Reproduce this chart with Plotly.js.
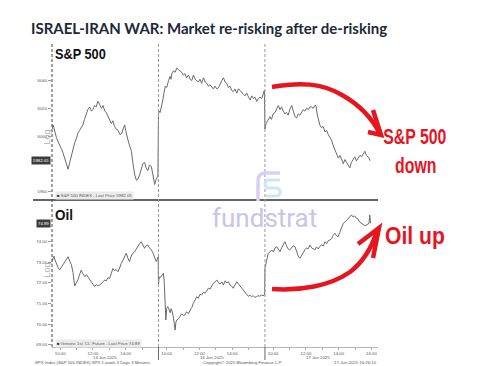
<!DOCTYPE html>
<html>
<head>
<meta charset="utf-8">
<script src="https://cdn.plot.ly/plotly-3.0.1.min.js"></script>
<style>
  html, body { margin: 0; padding: 0; background: #ffffff; }
  #chart { width: 504px; height: 366px; }
</style>
</head>
<body>
<div id="chart"></div>
<script>
// ---------------- DATA ----------------
const dayLabels = ['13 Jun 2025', '16 Jun 2025', '17 Jun 2025'];
const timeTickLabels = ['10:00', '12:00', '14:00', '16:00'];

// S&P 500 (3-minute bars, sampled) — 13 Jun 2025
const spxTimes1 = ['09:30','09:34','09:37','09:40','09:46','09:52','09:58','10:04','10:10','10:16','10:22','10:26','10:29','10:35','10:41','10:47','10:53','10:59','11:05','11:11','11:17','11:23','11:29','11:35','11:41','11:48','11:54','12:00','12:06','12:12','12:18','12:24','12:31','12:37','12:43','12:49','12:55','13:01','13:07','13:13','13:19','13:25','13:32','13:39','13:46','13:52','13:56','14:01','14:06','14:11','14:16','14:21','14:26','14:33','14:39','14:45','14:51','14:57','15:03','15:09','15:15','15:21','15:27','15:34','15:40','15:46','15:52','15:58'];
const spx1 = [6005,6008,6006,6003,5999,5996,5994,5991,5988,5984,5980,5978,5976,5981,5986,5990,5995,5998,6002,6004,6006,6008,6012,6015,6019,6021,6018,6019,6022,6021,6025,6023,6020,6022,6018,6017,6014,6011,6009,6011,6007,6005,6004,6001,6002,6006,6008,6003,5998,5995,5992,5989,5981,5972,5968,5969,5972,5977,5980,5981,5977,5975,5979,5978,5972,5965,5969,5971];
// 16 Jun 2025
const spxTimes2 = ['09:30','09:33','09:36','09:42','09:46','09:50','09:55','10:00','10:04','10:07','10:12','10:16','10:19','10:25','10:31','10:37','10:43','10:49','10:55','11:01','11:07','11:13','11:20','11:26','11:32','11:38','11:44','11:50','11:56','12:02','12:08','12:15','12:21','12:27','12:33','12:39','12:45','12:51','12:57','13:04','13:10','13:16','13:22','13:28','13:34','13:40','13:46','13:52','13:58','14:04','14:10','14:17','14:23','14:29','14:35','14:41','14:47','14:53','15:00','15:06','15:12','15:18','15:24','15:30','15:36','15:42','15:48','15:54','15:58'];
const spx2 = [6016,6018,6017,6022,6026,6031,6036,6035,6039,6040,6043,6041,6045,6047,6046,6049,6048,6047,6046,6044,6045,6042,6044,6041,6040,6044,6041,6040,6039,6041,6038,6042,6039,6038,6036,6037,6035,6034,6036,6034,6035,6038,6040,6042,6039,6038,6035,6036,6033,6032,6034,6031,6034,6033,6031,6030,6029,6031,6028,6026,6029,6027,6028,6025,6027,6028,6027,6031,6033];
// 17 Jun 2025
const spxTimes3 = ['09:30','09:34','09:40','09:48','09:54','10:00','10:07','10:13','10:19','10:25','10:31','10:37','10:43','10:49','10:55','11:01','11:08','11:14','11:20','11:26','11:32','11:38','11:44','11:50','11:56','12:03','12:09','12:15','12:21','12:27','12:33','12:37','12:41','12:45','12:51','12:57','13:03','13:10','13:16','13:22','13:28','13:34','13:40','13:46','13:53','13:59','14:05','14:11','14:17','14:23','14:29','14:35','14:41','14:47','14:53','14:59','15:05','15:11','15:18','15:24','15:30','15:36','15:42','15:48','15:52','15:55'];
const spx3 = [6005,6009,6011,6014,6012,6016,6017,6020,6022,6019,6021,6018,6016,6017,6015,6019,6022,6018,6014,6013,6016,6015,6017,6019,6018,6020,6019,6021,6021,6020,6022,6022,6016,6012,6008,6006,6007,6003,6004,6001,5999,5997,5993,5990,5986,5984,5986,5983,5980,5983,5981,5979,5977,5981,5983,5985,5982,5984,5986,5985,5987,5989,5986,5985,5984,5982.05];

// Oil — Generic 1st 'CL' Future
const oilTimes1 = ['09:30','09:34','09:37','09:40','09:46','09:52','09:58','10:04','10:10','10:16','10:22','10:29','10:35','10:41','10:47','10:53','10:59','11:05','11:11','11:17','11:23','11:30','11:36','11:42','11:48','11:54','12:00','12:06','12:12','12:18','12:25','12:31','12:37','12:43','12:49','12:55','13:01','13:07','13:13','13:19','13:25','13:32','13:38','13:44','13:50','13:56','14:02','14:08','14:14','14:20','14:26','14:32','14:38','14:45','14:51','14:57','15:03','15:09','15:15','15:21','15:27','15:34','15:40','15:46','15:52','15:56','15:59'];
const oil1 = [73.05,73.2,73.3,73.15,72.9,72.75,72.63,72.75,72.9,73.0,73.1,73.27,73.05,72.88,72.5,71.85,72.0,72.15,72.4,72.62,72.45,72.3,72.4,72.28,72.2,72.05,71.95,71.82,71.92,71.85,71.9,72.0,72.05,72.14,72.1,72.25,72.22,72.45,72.7,72.6,72.65,72.54,72.8,72.95,73.1,73.25,73.44,73.2,73.03,73.3,73.44,73.5,73.65,73.76,73.9,74.0,73.85,73.68,73.8,73.84,73.7,73.6,73.45,73.2,73.03,73.15,73.27];
const oilTimes2 = ['09:30','09:33','09:36','09:42','09:48','09:51','09:53','09:55','09:57','10:00','10:04','10:07','10:13','10:16','10:19','10:25','10:28','10:31','10:34','10:37','10:43','10:49','10:55','11:01','11:07','11:13','11:20','11:26','11:32','11:38','11:44','11:50','11:56','12:02','12:08','12:15','12:21','12:27','12:33','12:39','12:45','12:51','12:57','13:04','13:10','13:16','13:22','13:28','13:34','13:40','13:46','13:52','13:58','14:04','14:10','14:17','14:23','14:29','14:35','14:41','14:47','14:53','14:59','15:05','15:11','15:17','15:23','15:29','15:35','15:41','15:47','15:53','15:59'];
const oil2 = [71.95,72.3,72.25,72.38,72.47,72.1,71.3,70.6,70.2,70.75,70.85,70.77,70.55,70.75,70.68,70.3,70.0,69.71,70.1,70.2,70.25,70.36,70.5,70.42,70.44,70.6,70.5,70.68,70.8,71.01,71.15,71.33,71.25,71.45,71.41,71.55,71.5,71.65,71.74,71.7,71.85,71.98,72.05,72.14,72.0,71.95,72.05,71.9,72.1,72.0,72.06,71.9,71.85,71.74,71.9,72.06,71.95,71.85,71.74,71.6,71.5,71.41,71.35,71.4,71.33,71.38,71.3,71.33,71.38,71.35,71.41,71.38,71.41];
const oilTimes3 = ['09:30','09:33','09:37','09:42','09:48','09:55','10:01','10:07','10:13','10:19','10:25','10:31','10:37','10:43','10:49','10:55','11:01','11:07','11:14','11:20','11:26','11:32','11:38','11:44','11:50','11:56','12:02','12:08','12:15','12:21','12:27','12:33','12:39','12:45','12:51','12:57','13:04','13:10','13:16','13:22','13:28','13:34','13:40','13:46','13:52','13:58','14:04','14:10','14:17','14:23','14:29','14:35','14:41','14:47','14:53','14:59','15:05','15:11','15:17','15:24','15:30','15:36','15:42','15:48','15:51','15:54','15:57'];
const oil3 = [72.7,72.87,73.1,73.44,73.5,73.6,73.5,73.7,73.76,73.6,73.51,73.7,73.85,74.0,73.8,73.65,73.6,73.7,73.8,73.76,73.5,73.3,73.19,73.35,73.5,73.6,73.7,73.65,73.84,73.7,73.65,73.6,73.75,73.65,73.76,73.85,73.8,74.0,73.9,74.05,74.08,74.15,74.3,74.41,74.3,74.24,74.45,74.7,74.89,74.95,75.05,75.1,75.25,75.3,75.2,75.25,75.14,75.1,74.95,74.89,74.85,74.78,74.81,74.85,74.89,75.3,74.89];

const spxTicks = [5960, 6000, 6020, 6040];
const oilTicks = [69, 70, 71, 72, 73, 74];
const spxLast = '5982.05';
const oilLast = '74.89';

// ---------------- HELPERS ----------------
const DAY_LEN = 6.5; // trading hours 09:30-16:00
function tx(day, t) {
  const p = t.split(':').map(Number);
  return day * DAY_LEN + p[0] + p[1] / 60 - 9.5;
}
function series(timesArr, valsArr) {
  const x = [], y = [];
  timesArr.forEach((times, d) => {
    times.forEach((t, i) => { x.push(tx(d, t)); y.push(valsArr[d][i]); });
  });
  return { x, y };
}
// pixel -> paper coordinates (plot area: x 52..378, y 48..347)
const L = 52, R = 378, T = 48, B = 347;
const PX = v => (v - L) / (R - L);
const PY = v => (B - v) / (B - T);
function path(str) {
  return str.replace(/(-?\d+(?:\.\d+)?),(-?\d+(?:\.\d+)?)/g, (m, a, b) =>
    PX(+a).toFixed(4) + ',' + PY(+b).toFixed(4));
}

const spx = series([spxTimes1, spxTimes2, spxTimes3], [spx1, spx2, spx3]);
const oil = series([oilTimes1, oilTimes2, oilTimes3], [oil1, oil2, oil3]);

// x ticks: every hour, labels only on even hours
const tickvals = [], ticktext = [];
for (let d = 0; d < 3; d++) {
  for (let h = 10; h <= 16; h++) {
    if (h === 16 && d < 2) continue;
    tickvals.push(tx(d, h + ':00'));
    const lbl = h + ':00';
    ticktext.push(timeTickLabels.indexOf(lbl) >= 0 ? lbl : '');
  }
}

const lineStyle = { color: '#6a6a6a', width: 1 };
const traces = [
  { x: spx.x, y: spx.y, type: 'scatter', mode: 'lines', line: lineStyle, xaxis: 'x', yaxis: 'y', hoverinfo: 'skip' },
  { x: oil.x, y: oil.y, type: 'scatter', mode: 'lines', line: lineStyle, xaxis: 'x', yaxis: 'y2', hoverinfo: 'skip' }
];

const splitY = PY(200);
const red = '#e5161f';
const tinyFont = { family: 'Liberation Sans, Arial, sans-serif', size: 4.3, color: '#555' };
const boldSans = 'Liberation Sans, Arial, sans-serif';

const annotations = [
  // panel labels
  { text: '<b>S&P 500</b>', xref: 'paper', yref: 'paper', x: PX(53), y: PY(53), xanchor: 'left', yanchor: 'middle', showarrow: false,
    font: { family: boldSans, size: 15, color: '#111' } },
  { text: '<b>Oil</b>', xref: 'paper', yref: 'paper', x: PX(53), y: PY(214), xanchor: 'left', yanchor: 'middle', showarrow: false,
    font: { family: boldSans, size: 15, color: '#111' } },
  // Log labels
  { text: 'Log', xref: 'paper', yref: 'paper', x: PX(39), y: PY(128), textangle: -90, showarrow: false,
    font: { family: boldSans, size: 9, color: '#b0b0b0' } },
  { text: 'Log', xref: 'paper', yref: 'paper', x: PX(39), y: PY(280), textangle: -90, showarrow: false,
    font: { family: boldSans, size: 9, color: '#b0b0b0' } },
  // last price boxes
  { text: spxLast, xref: 'paper', yref: 'y', x: 0, y: +spxLast, xanchor: 'right', yanchor: 'middle', xshift: -1, showarrow: false,
    bgcolor: '#3c3c3c', borderpad: 1, font: { family: boldSans, size: 4.3, color: '#ffffff' } },
  { text: oilLast, xref: 'paper', yref: 'y2', x: 0, y: +oilLast, xanchor: 'right', yanchor: 'middle', xshift: -1, showarrow: false,
    bgcolor: '#3c3c3c', borderpad: 1, font: { family: boldSans, size: 4.3, color: '#ffffff' } },
  // legend boxes
  { text: '<span style="color:#333">■</span> S&P 500 INDEX - Last Price ' + spxLast, xref: 'paper', yref: 'paper', x: PX(55), y: PY(195),
    xanchor: 'left', yanchor: 'middle', showarrow: false, bgcolor: '#ebebeb', borderpad: 1, font: tinyFont },
  { text: '<span style="color:#333">■</span> Generic 1st \'CL\' Future - Last Price ' + oilLast, xref: 'paper', yref: 'paper', x: PX(55), y: PY(343),
    xanchor: 'left', yanchor: 'middle', showarrow: false, bgcolor: '#ebebeb', borderpad: 1, font: tinyFont },
  // footer
  { text: 'SPX Index (S&P 500 INDEX) SPX 1-week 3 Days 3 Minutes', xref: 'paper', yref: 'paper', x: PX(33), y: PY(362),
    xanchor: 'left', yanchor: 'middle', showarrow: false, font: tinyFont },
  { text: 'Copyright© 2025 Bloomberg Finance L.P.', xref: 'paper', yref: 'paper', x: PX(201), y: PY(362),
    xanchor: 'left', yanchor: 'middle', showarrow: false, font: tinyFont },
  { text: '17-Jun-2025 16:26:10', xref: 'paper', yref: 'paper', x: PX(379), y: PY(362),
    xanchor: 'right', yanchor: 'middle', showarrow: false, font: tinyFont },
  // watermark
  { text: 'fundstrat', xref: 'paper', yref: 'paper', x: PX(264), y: PY(218), xanchor: 'center', yanchor: 'middle', showarrow: false,
    font: { family: 'Roboto, sans-serif', size: 26, color: '#c9c4e8' } },
  // red commentary
  { text: '<b>S&P 500</b>', xref: 'paper', yref: 'paper', x: PX(415.5), y: PY(136), xanchor: 'center', yanchor: 'middle', showarrow: false,
    font: { family: boldSans, size: 22, color: red } },
  { text: '<b>down</b>', xref: 'paper', yref: 'paper', x: PX(415.5), y: PY(165), xanchor: 'center', yanchor: 'middle', showarrow: false,
    font: { family: boldSans, size: 22, color: red } },
  { text: '<b>Oil up</b>', xref: 'paper', yref: 'paper', x: PX(415), y: PY(235), xanchor: 'center', yanchor: 'middle', showarrow: false,
    font: { family: boldSans, size: 24, color: red } }
];
// date labels under the axis
dayLabels.forEach((lbl, d) => {
  annotations.push({ text: lbl, xref: 'x', yref: 'paper', x: d * DAY_LEN + DAY_LEN / 2, y: PY(357), xanchor: 'center', yanchor: 'middle',
    showarrow: false, font: tinyFont });
});

const shapes = [
  { type: 'line', xref: 'paper', yref: 'paper', x0: PX(33), x1: 1, y0: splitY, y1: splitY, line: { color: '#333', width: 1.5 } },
  { type: 'line', xref: 'paper', yref: 'paper', x0: 0, x1: 0, y0: 0, y1: PY(44), line: { color: '#444', width: 1, dash: '3px,2px' } }
];
[1, 2].forEach(d => {
  shapes.push({ type: 'line', xref: 'x', yref: 'paper', x0: d * DAY_LEN, x1: d * DAY_LEN, y0: 0, y1: PY(44), line: { color: '#9a9a9a', width: 1, dash: '3px,2px' } });
  shapes.push({ type: 'line', xref: 'x', yref: 'paper', x0: d * DAY_LEN, x1: d * DAY_LEN, y0: PY(360), y1: 0, line: { color: '#666', width: 1 } });
});
// fundstrat logo (approximate)
shapes.push({ type: 'path', xref: 'paper', yref: 'paper', path: path('M 258,201 L 258,181 Q 258,173 266,173 L 280,173'), line: { color: '#d7d1f3', width: 3.5 } });
shapes.push({ type: 'path', xref: 'paper', yref: 'paper', path: path('M 280,180 L 269,180 Q 265,180 265,184 Q 265,188 269,188 L 276,188 Q 280,188 280,192 Q 280,196 276,196 L 266,196'), line: { color: '#cde5f7', width: 3 } });
// red arrows
shapes.push({ type: 'path', xref: 'paper', yref: 'paper', path: path('M 272,87 C 300,82 322,83 342,95 C 358,104 372,118 380,134'), line: { color: red, width: 4.5 } });
shapes.push({ type: 'path', xref: 'paper', yref: 'paper', path: path('M 373,110 L 381,135 L 368,132'), line: { color: red, width: 4.5 } });
shapes.push({ type: 'path', xref: 'paper', yref: 'paper', path: path('M 272,289 C 300,291 330,286 350,272 C 363,262 371,250 377,231'), line: { color: red, width: 4.5 } });
shapes.push({ type: 'path', xref: 'paper', yref: 'paper', path: path('M 358,244 L 379,228 L 373,258'), line: { color: red, width: 4.5 } });

const layout = {
  width: 504, height: 366,
  margin: { l: L, r: 504 - R, t: T, b: 366 - B, pad: 0 },
  paper_bgcolor: '#ffffff', plot_bgcolor: '#ffffff',
  showlegend: false,
  font: { family: 'Liberation Sans, Arial, sans-serif', color: '#444' },
  title: {
    text: '<b>ISRAEL-IRAN WAR: Market re-risking after de-risking</b>',
    x: 31 / 504, xanchor: 'left', xref: 'container',
    y: 1 - 29 / 366, yanchor: 'middle', yref: 'container',
    font: { family: 'Lato, Open Sans, sans-serif', size: 15, color: '#1d2838' }
  },
  xaxis: {
    anchor: 'y2', range: [0, (R - L) / 16.38], showgrid: false, zeroline: false,
    showline: true, linecolor: '#b5b5b5', linewidth: 1,
    tickmode: 'array', tickvals, ticktext, ticks: 'outside', ticklen: 2, tickcolor: '#aaa',
    tickfont: { size: 4.3, color: '#555' }
  },
  yaxis: {
    domain: [splitY, 1], range: [6000 + (136 - 200) / 1.385, 6000 + (136 - T) / 1.385],
    showgrid: false, zeroline: false, showline: false,
    tickmode: 'array', tickvals: spxTicks, ticktext: spxTicks.map(String),
    ticks: 'outside', ticklen: 3, tickcolor: '#999', tickfont: { size: 4.3, color: '#555' }
  },
  yaxis2: {
    domain: [0, splitY], range: [74 - (B - 241.7) / 20.6, 74 + (241.7 - 200) / 20.6],
    showgrid: false, zeroline: false, showline: false,
    tickmode: 'array', tickvals: oilTicks, ticktext: oilTicks.map(v => v.toFixed(2)),
    ticks: 'outside', ticklen: 3, tickcolor: '#999', tickfont: { size: 4.3, color: '#555' }
  },
  annotations, shapes
};

// condensed look for the bold headline-style labels (narrow font not installed)
function condense() {
  document.querySelectorAll('#chart text.annotation-text').forEach(el => {
    const txt = el.textContent;
    const fill = (el.style.fill || '').replace(/\s/g, '');
    let s = 0;
    if (txt === 'S&P 500' || txt === 'down') s = fill.indexOf('229,22,31') >= 0 ? 0.72 : 0.85;
    if (txt === 'Oil') s = 0.9;
    if (txt === 'Oil up') s = 0.88;
    if (s) {
      el.style.transformBox = 'fill-box';
      el.style.transformOrigin = txt === 'S&P 500' && s === 0.85 || txt === 'Oil' ? 'left center' : 'center';
      el.style.transform = 'scaleX(' + s + ')';
    }
  });
}
Plotly.newPlot('chart', traces, layout, { displayModeBar: false, staticPlot: true }).then(condense);
</script>
</body>
</html>
